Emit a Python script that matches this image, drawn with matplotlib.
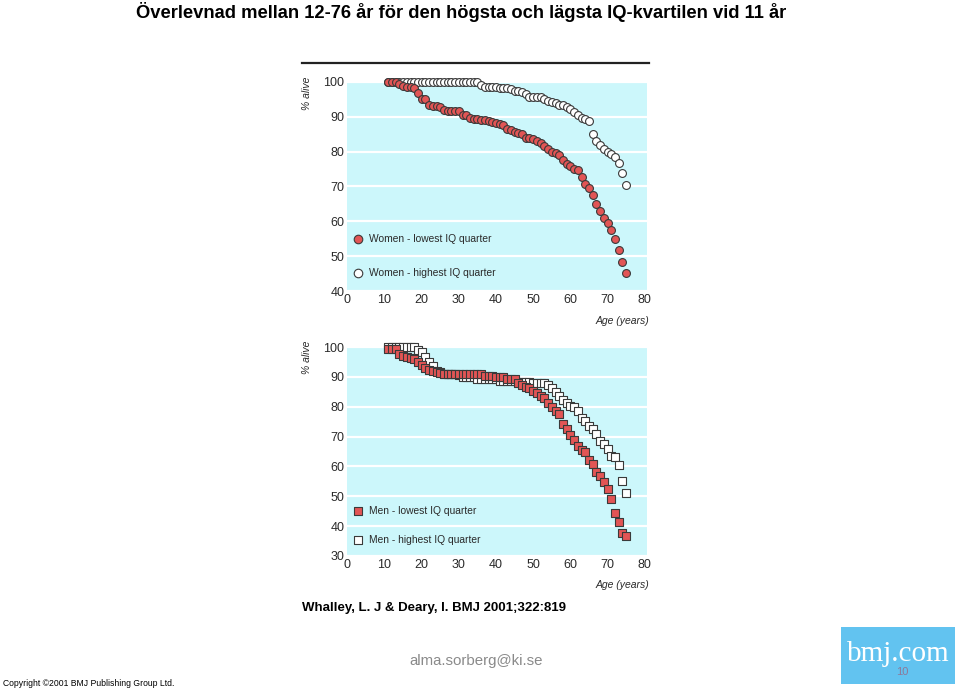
import matplotlib
matplotlib.use("Agg")
import matplotlib.pyplot as plt
from matplotlib.patches import Rectangle, Circle
import numpy as np

plt.rcParams['font.family'] = ['Liberation Sans', 'DejaVu Sans']

# ---------------- data ----------------
ages = list(range(11, 76))

women_highest = [100]*25 + [
    99.1, 98.7, 98.7, 98.7, 98.5, 98.3, 98.3, 98.3, 97.9, 97.5,
    97.3, 97.0, 96.6, 95.8, 95.6, 95.6, 95.6, 95.2, 94.6, 94.3,
    93.9, 93.3, 93.3, 92.9, 92.2, 91.5, 90.4, 89.7, 89.3, 88.8,
    85.2, 83.1, 82.0, 80.9, 80.0, 79.3, 78.5, 76.7, 74.0, 70.4]

women_lowest = [100, 100, 100,
    99.5, 98.8, 98.5, 98.5, 98.3, 96.8, 95.0, 95.0, 93.5, 93.1,
    93.1, 92.9, 92.1, 91.8, 91.8, 91.8, 91.8, 90.6, 90.4, 89.7,
    89.5, 89.3, 89.1, 89.0, 88.7, 88.4, 88.1, 87.8, 87.6, 86.6,
    86.1, 85.7, 85.4, 85.0, 84.0, 84.0, 83.5, 83.0, 82.5, 81.5,
    80.7, 80.0, 79.6, 78.9, 77.7, 76.6, 76.0, 75.0, 74.8, 72.8,
    70.7, 69.7, 67.5, 65.0, 63.0, 61.0, 59.5, 57.5, 55.0, 51.8,
    48.2, 45.2]

men_highest = [100]*8 + [
    99.1, 98.3, 96.7, 95.0, 93.7, 92.0, 91.7, 91.1, 91.1, 91.1,
    91.1, 90.6, 90.0, 90.0, 90.0, 90.0, 89.4, 89.4, 89.4, 89.4,
    89.4, 89.4, 88.6, 88.6, 88.6, 88.6, 88.6, 88.3, 88.3, 88.3,
    88.3, 87.8, 87.8, 87.8, 87.8, 87.2, 86.4, 84.8, 83.6, 82.2,
    81.1, 80.2, 79.8, 78.7, 76.3, 75.3, 73.7, 72.4, 70.8, 68.6,
    67.4, 66.0, 63.6, 63.1, 60.4, 55.0, 51.1]

men_lowest = [99.4, 99.4, 99.4,
    97.6, 97.1, 96.7, 96.4, 96.0, 95.0, 93.9, 92.8, 92.2, 91.9,
    91.7, 91.3, 91.1, 91.1, 91.1, 91.1, 91.1, 91.1, 90.9, 90.9,
    90.9, 90.9, 90.9, 90.2, 90.2, 90.2, 89.8, 89.8, 89.8, 89.2,
    89.2, 89.2, 88.0, 87.2, 86.7, 86.4, 85.3, 84.7, 83.7, 82.8,
    81.1, 79.8, 78.6, 77.4, 74.2, 72.4, 70.6, 68.9, 66.9, 65.6,
    65.0, 62.2, 60.9, 58.0, 56.7, 54.8, 52.6, 49.1, 44.4, 41.3,
    37.8, 36.7]

x_ticks = [0, 10, 20, 30, 40, 50, 60, 70, 80]
women_yticks = [40, 50, 60, 70, 80, 90, 100]
men_yticks = [30, 40, 50, 60, 70, 80, 90, 100]

women_labels = ["Women - lowest IQ quarter", "Women - highest IQ quarter"]
men_labels = ["Men - lowest IQ quarter", "Men - highest IQ quarter"]

title = "Överlevnad mellan 12-76 år för den högsta och lägsta IQ-kvartilen vid 11 år"
citation = "Whalley, L. J & Deary, I. BMJ 2001;322:819"
email = "alma.sorberg@ki.se"
copyright_txt = "Copyright ©2001 BMJ Publishing Group Ltd."
slide_no = "10"

# ---------------- style ----------------
W, H = 960, 690
CYAN = "#CCF7FB"
RED = "#E25555"
EDGE = "#3a3a3a"
TXT = "#2a2a2a"

fig = plt.figure(figsize=(9.6, 6.9), dpi=100)
fig.patch.set_facecolor("white")

def fx(px):
    return px / W

def fy(py):
    return 1 - py / H

def make_panel(top_px, bot_px, ymin, yticks, hi, lo, labels, marker, leg_y):
    left, right = 347.3, 647.0
    ax = fig.add_axes([fx(left), fy(bot_px), fx(right - left), (bot_px - top_px) / H])
    ax.set_facecolor(CYAN)
    ax.set_xlim(0, 80.6)
    ax.set_ylim(ymin, 100)
    for s in ax.spines.values():
        s.set_visible(False)
    ax.set_xticks(x_ticks)
    ax.set_yticks(yticks)
    ax.tick_params(length=0, labelsize=9, colors=TXT, pad=2)
    ax.yaxis.grid(True, color="white", linewidth=1.6)
    ax.set_axisbelow(True)
    ms = 32
    ax.scatter(ages, hi, s=ms, marker=marker, facecolor="white", edgecolor=EDGE,
               linewidth=0.8, zorder=3, clip_on=False)
    ax.scatter(ages, lo, s=ms, marker=marker, facecolor=RED, edgecolor=EDGE,
               linewidth=0.8, zorder=4, clip_on=False)
    # legend
    ax.scatter([2.9], [leg_y[0]], s=ms + 6, marker=marker, facecolor=RED,
               edgecolor=EDGE, linewidth=0.8, zorder=5)
    ax.scatter([2.9], [leg_y[1]], s=ms + 6, marker=marker, facecolor="white",
               edgecolor=EDGE, linewidth=0.8, zorder=5)
    ax.text(5.8, leg_y[0], labels[0], fontsize=7.4, color=TXT, va="center", ha="left")
    ax.text(5.8, leg_y[1], labels[1], fontsize=7.4, color=TXT, va="center", ha="left")
    return ax

ax1 = make_panel(82, 291, 40, women_yticks, women_highest, women_lowest,
                 women_labels, "o", (54.9, 45.1))
ax2 = make_panel(347, 556, 30, men_yticks, men_highest, men_lowest,
                 men_labels, "s", (45.1, 35.4))

# panel decorations
fig.add_artist(plt.Line2D([fx(302), fx(649)], [fy(63), fy(63)], color="#222222", linewidth=1.6))
fig.text(fx(307), fy(93), "% alive", rotation=90, style="italic", fontsize=7.5,
         color=TXT, ha="center", va="center")
fig.text(fx(307), fy(357), "% alive", rotation=90, style="italic", fontsize=7.5,
         color=TXT, ha="center", va="center")
fig.text(fx(649), fy(321), "Age (years)", style="italic", fontsize=7.5,
         color=TXT, ha="right", va="center")
fig.text(fx(649), fy(585), "Age (years)", style="italic", fontsize=7.5,
         color=TXT, ha="right", va="center")

# title and slide texts
fig.text(fx(461), fy(2), title, fontsize=13.2, fontweight="bold", color="black",
         ha="center", va="top")
fig.text(fx(302), fy(608), citation, fontsize=9.5, fontweight="bold", color="black",
         ha="left", va="center")
fig.text(fx(476), fy(661), email, fontsize=10.8, color="#8a8a8a", ha="center", va="center")
fig.text(fx(3), fy(684), copyright_txt, fontsize=6.2, color="black", ha="left", va="center")

# bmj logo
fig.add_artist(Rectangle((fx(841), fy(684)), fx(114), (684 - 627) / H,
                         facecolor="#62C3F0", edgecolor="none", transform=fig.transFigure))
fig.text(fx(898), fy(654), "bmj.com", family=["Liberation Serif", "DejaVu Serif"],
         fontsize=21, color="white", ha="center", va="center")
fig.text(fx(902), fy(672), slide_no, fontsize=8, color="#8c7a9a", ha="center", va="center")

fig.savefig("out.png", dpi=100, facecolor="white")
